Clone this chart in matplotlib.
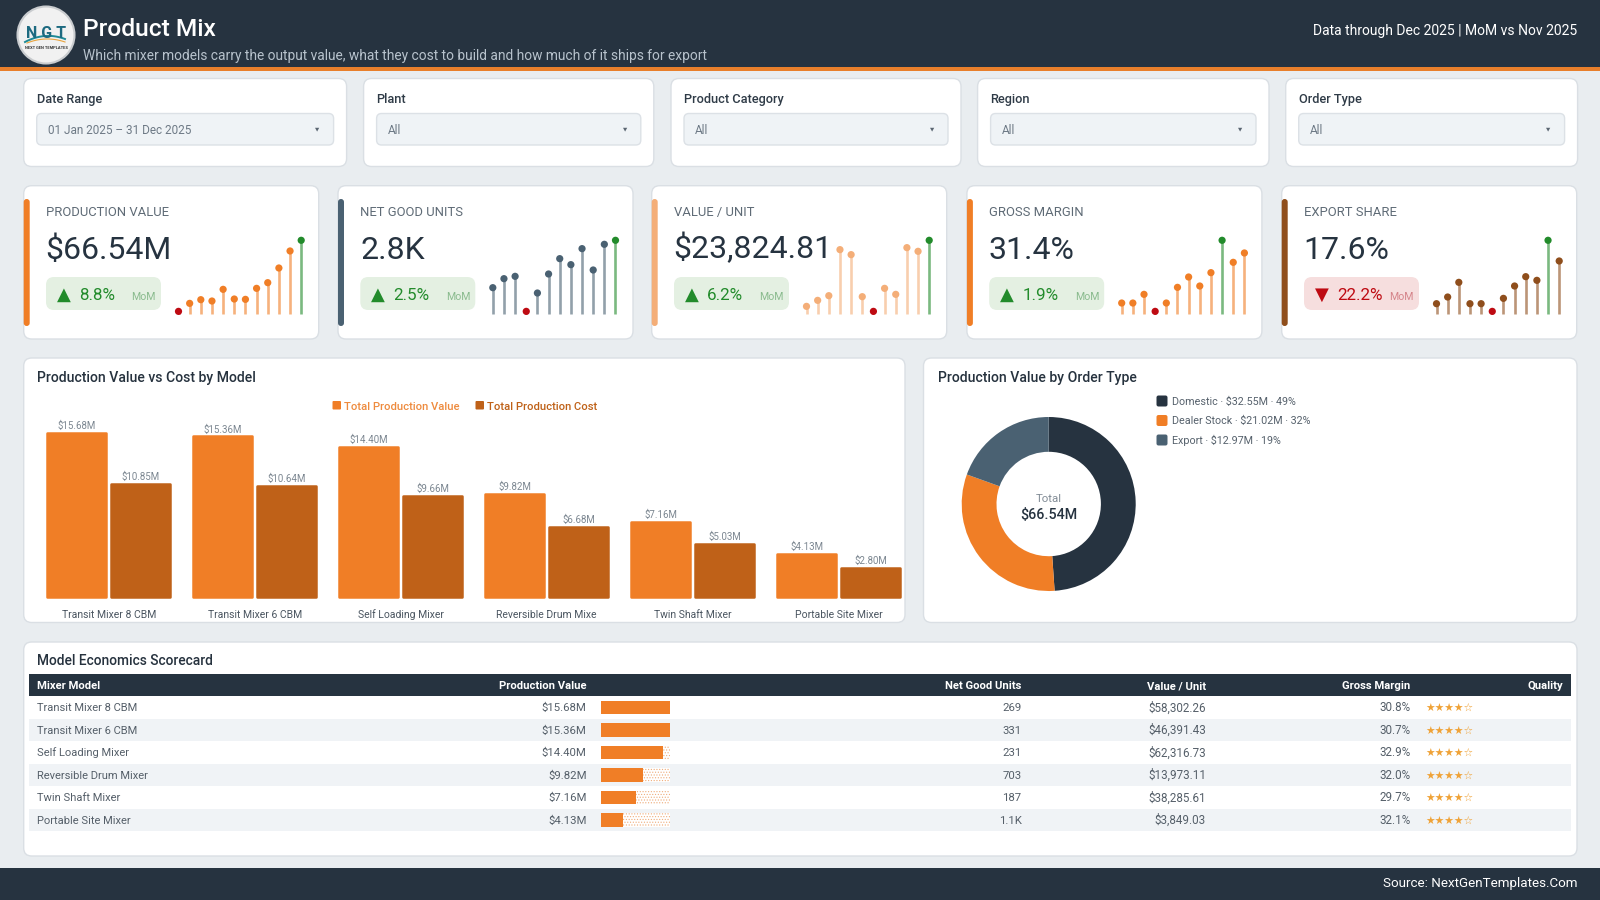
# Product Mix dashboard
import numpy as np
import matplotlib
matplotlib.use('Agg')
import matplotlib.pyplot as plt
from matplotlib.patches import FancyBboxPatch, Circle

W, H = 1600, 900
FONT = 'Roboto'
plt.rcParams['font.family'] = [FONT, 'DejaVu Sans']

# colours
DARK = '#263340'
ORANGE = '#F07E26'
RUST = '#BF6118'
SLATE = '#4A6172'
PEACH = '#F4AE78'
BROWN = '#8F4E1C'
PAGE = '#E9EDF0'
BORDER = '#DADFE4'
GREEN = '#228B2B'
RED = '#BE0A12'

# filters
filter_labels = ['Date Range', 'Plant', 'Product Category', 'Region', 'Order Type']
filter_values = ['01 Jan 2025 – 31 Dec 2025', 'All', 'All', 'All', 'All']

# kpi cards
kpi_labels = ['PRODUCTION VALUE', 'NET GOOD UNITS', 'VALUE / UNIT', 'GROSS MARGIN', 'EXPORT SHARE']
kpi_values = ['$66.54M', '2.8K', '$23,824.81', '31.4%', '17.6%']
kpi_deltas = ['8.8%', '2.5%', '6.2%', '1.9%', '22.2%']
kpi_up = [True, True, True, True, False]
kpi_colors = [ORANGE, SLATE, PEACH, ORANGE, BROWN]

# monthly trend, read as height above the baseline
spark_production = [7, 31, 42, 38, 73, 44, 43, 76, 93, 137, 188, 220]
spark_units = [78, 105, 112, 7, 62, 119, 165, 147, 195, 131, 208, 220]
spark_value = [22, 40, 54, 192, 177, 51, 7, 76, 58, 198, 187, 220]
spark_margin = [32, 32, 58, 7, 32, 79, 110, 83, 123, 220, 154, 182]
spark_export = [30, 50, 94, 30, 30, 7, 46, 83, 111, 100, 220, 158]
sparks = [spark_production, spark_units, spark_value, spark_margin, spark_export]

# bar chart
bar_models = ['Transit Mixer 8 CBM', 'Transit Mixer 6 CBM', 'Self Loading Mixer',
              'Reversible Drum Mixe', 'Twin Shaft Mixer', 'Portable Site Mixer']
prod_value = [15.68, 15.36, 14.40, 9.82, 7.16, 4.13]
prod_cost = [10.85, 10.64, 9.66, 6.68, 5.03, 2.80]

# donut
order_types = ['Domestic', 'Dealer Stock', 'Export']
order_values = [32.55, 21.02, 12.97]
order_pct = [49, 32, 19]
order_colors = [DARK, ORANGE, SLATE]

# table
table_models = ['Transit Mixer 8 CBM', 'Transit Mixer 6 CBM', 'Self Loading Mixer',
                'Reversible Drum Mixer', 'Twin Shaft Mixer', 'Portable Site Mixer']
table_units = ['269', '331', '231', '703', '187', '1.1K']
table_vpu = ['$58,302.26', '$46,391.43', '$62,316.73', '$13,973.11', '$38,285.61', '$3,849.03']
table_margin = ['30.8%', '30.7%', '32.9%', '32.0%', '29.7%', '32.1%']
table_fill = [1.0, 1.0, 0.90, 0.607, 0.505, 0.316]
table_stars = ['★★★★☆'] * 6

fig = plt.figure(figsize=(16, 9), dpi=100, facecolor=PAGE)
bg = fig.add_axes([0, 0, 1, 1])
bg.set_xlim(0, W)
bg.set_ylim(H, 0)
bg.axis('off')


def px_axes(x0, y0, x1, y1):
    ax = fig.add_axes([x0 / W, 1 - y1 / H, (x1 - x0) / W, (y1 - y0) / H])
    ax.patch.set_alpha(0)
    ax.axis('off')
    return ax


def box(x0, y0, x1, y1, fc='white', ec=BORDER, r=8, lw=1.0, z=1):
    p = FancyBboxPatch((x0, y0), x1 - x0, y1 - y0, boxstyle=f'round,pad=0,rounding_size={r}',
                       fc=fc, ec=ec, lw=lw, zorder=z)
    bg.add_patch(p)


def txt(x, y, s, px=12, color='#333333', ha='left', weight='normal', family=None, z=5):
    # y is the middle of the capitals
    bg.text(x, y + 0.36 * px, s, fontsize=px * 0.72, color=color, ha=ha, va='baseline',
            fontweight=weight, family=family or [FONT, 'DejaVu Sans'], zorder=z)


# header
bg.fill_between([0, W], 0, 67, color=DARK, lw=0)
bg.fill_between([0, W], 66.5, 70.5, color='#E87F2B', lw=0)
bg.fill_between([0, W], 867.5, 900, color=DARK, lw=0)
bg.add_patch(Circle((46, 35), 28.5, fc='#F1F1F1', ec='#C9CCCF', lw=1.5, zorder=3))
txt(46.5, 32, 'N G T', px=16, color='#1D6A80', ha='center', weight='bold')
t = np.linspace(0, 1, 40)
bg.plot(25 + 40 * t, 42 - 9 * t * (1 - t) * 2 - 3 * t, color='#1D8A96', lw=1.4, zorder=4)
bg.plot(27 + 38 * t, 43 - 7 * t * (1 - t) * 2 - 1 * t, color='#E8A33D', lw=0.8, zorder=4)
txt(46.5, 47.6, 'NEXT GEN TEMPLATES', px=4, color='#333333', ha='center', weight='bold')
txt(83, 27.5, 'Product Mix', px=24.5, color='white', weight='medium')
txt(83, 55, 'Which mixer models carry the output value, what they cost to build and how much of it ships for export',
    px=13.8, color='#B7C2CC')
txt(1577.6, 30, 'Data through Dec 2025 | MoM vs Nov 2025', px=13.85, color='white', ha='right')
txt(1577.6, 882, 'Source: NextGenTemplates.Com', px=13.4, color='white', ha='right')

# filter row
filter_x0 = [23.7, 363.6, 671, 977.6, 1285.7]
filter_x1 = [346.6, 653.8, 961, 1269, 1577.6]
for i in range(5):
    x0, x1 = filter_x0[i], filter_x1[i]
    box(x0, 78.5, x1, 166.5)
    txt(x0 + 13, 98, filter_labels[i], px=12.8, color='#2F3B47', weight='medium')
    box(x0 + 13, 113.5, x1 - 13, 145, fc='#EFF3F6', ec='#DCE1E6', r=5)
    txt(x0 + 24, 130, filter_values[i], px=11.8, color='#6E7A86')
    txt(x1 - 29, 128.5, '▼', px=5.5, color='#5B6672', ha='center', family='DejaVu Sans')

# kpi cards
card_x = [23.7, 338, 651.7, 966.9, 1281.7]
for i in range(5):
    x = card_x[i]
    col = kpi_colors[i]
    box(x, 185.7, x + 295, 339)
    box(x, 199, x + 6, 326, fc=col, ec=col, r=3, lw=0, z=2)
    txt(x + 22.3, 211, kpi_labels[i], px=13, color='#5F6B76')
    txt(x + 22, 247, kpi_values[i], px=32, color=DARK)
    up = kpi_up[i]
    box(x + 22.3, 277, x + 137.3, 310, fc='#E4F0E2' if up else '#F6DEDE', ec='none', r=8, lw=0, z=2)
    c = GREEN if up else RED
    txt(x + 40, 293, '▲' if up else '▼', px=18, color=c, ha='center', family='DejaVu Sans')
    txt(x + 55.3, 294, kpi_deltas[i], px=17, color=c)
    txt(x + 132.3, 296, 'MoM', px=10.5, color='#8ABB8E' if up else '#D5848A', ha='right')

    # lollipop sparkline
    ax = px_axes(x + 154.8, 240.3, x + 277.5, 313.7)
    vals = np.array(sparks[i])
    xs = np.arange(len(vals))
    imax, imin = vals.argmax(), vals.argmin()
    stem = [GREEN if k == imax else (RED if k == imin else col) for k in xs]
    ax.vlines(xs, 0, vals, colors=stem, linewidth=1.9, alpha=0.6, clip_on=False)
    ax.scatter(xs, vals, s=27, c=stem, zorder=3, clip_on=False, linewidths=0)
    ax.set_xlim(0, len(vals) - 1)
    ax.set_ylim(0, 220)

# bar chart panel
box(23.7, 358, 905, 622.5)
txt(36.7, 376.5, 'Production Value vs Cost by Model', px=14, color='#26323E', weight='medium')
box(332.5, 401, 341, 409.5, fc=ORANGE, ec='none', r=1, lw=0, z=2)
txt(344, 405.5, 'Total Production Value', px=11.2, color='#EE8B3E', weight='medium')
box(475.5, 401, 484, 409.5, fc=RUST, ec='none', r=1, lw=0, z=2)
txt(487, 405.5, 'Total Production Cost', px=11.2, color=RUST, weight='medium')

step = 146.0
ax = px_axes(108.7 - 0.5 * step, 420, 108.7 + 5.45 * step, 597)
bx = np.arange(6)
bw = 58.5 / step
off = 32 / step
ax.bar(bx - off, prod_value, bw, color=ORANGE, edgecolor=ORANGE, linewidth=1.8, joinstyle='round', clip_on=False)
ax.bar(bx + off, prod_cost, bw, color=RUST, edgecolor=RUST, linewidth=1.8, joinstyle='round', clip_on=False)
ax.set_xlim(-0.5, 5.45)
ax.set_ylim(0, 177 / 10.45)
for k in bx:
    ax.annotate(f'${prod_value[k]:.2f}M', (k - off, prod_value[k]), xytext=(0, 2), textcoords='offset pixels',
                ha='center', va='bottom', fontsize=7.0, color='#7C8791', annotation_clip=False)
    ax.annotate(f'${prod_cost[k]:.2f}M', (k + off, prod_cost[k]), xytext=(0, 2), textcoords='offset pixels',
                ha='center', va='bottom', fontsize=7.0, color='#7C8791', annotation_clip=False)
    ax.annotate(bar_models[k], (k, 0), xytext=(0, -21), textcoords='offset pixels',
                ha='center', va='baseline', fontsize=7.5, color='#4A5560', annotation_clip=False)

# donut panel
box(923.5, 358, 1577, 622.5)
txt(937.5, 376.5, 'Production Value by Order Type', px=14, color='#26323E', weight='medium')
ax = px_axes(1048.7 - 87, 504 - 87, 1048.7 + 87, 504 + 87)
ax.pie(order_values, colors=order_colors, startangle=90, counterclock=False, radius=1,
       wedgeprops={'width': 0.4, 'linewidth': 0})
ax.set_xlim(-1, 1)
ax.set_ylim(-1, 1)
txt(1048.7, 498, 'Total', px=11.5, color='#838D97', ha='center')
txt(1048.7, 514, '$66.54M', px=14.2, color=DARK, ha='center', weight='medium')
leg_y = [401, 420.5, 440]
for i in range(3):
    box(1156.5, leg_y[i] - 5.5, 1167.5, leg_y[i] + 5.5, fc=order_colors[i], ec='none', r=2, lw=0, z=2)
    txt(1172.5, leg_y[i], f'{order_types[i]} · ${order_values[i]:.2f}M · {order_pct[i]}%', px=10.8, color='#56616C')

# scorecard
box(23.7, 642, 1577, 856)
txt(36.7, 660, 'Model Economics Scorecard', px=13.8, color='#26323E', weight='medium')
bg.fill_between([29, 1571], 674, 696, color=DARK, lw=0, zorder=2)
col_heads = ['Production Value', 'Net Good Units', 'Value / Unit', 'Gross Margin', 'Quality']
col_right = [586.7, 1021.5, 1206, 1410.7, 1563]
txt(36.7, 685, 'Mixer Model', px=11.3, color='white', weight='bold')
for h, xr in zip(col_heads, col_right):
    txt(xr, 685, h, px=11.3, color='white', ha='right', weight='bold')
row_h = 22.5
for r in range(6):
    y0 = 696 + r * row_h
    if r % 2 == 1:
        bg.fill_between([29, 1571], y0, y0 + row_h, color='#F0F3F6', lw=0, zorder=2)
    yc = y0 + row_h / 2
    txt(36.7, yc, table_models[r], px=11.1, color='#555F69')
    txt(586.7, yc, f'${prod_value[r]:.2f}M', px=11.4, color='#555F69', ha='right')
    txt(1021.5, yc, table_units[r], px=11.4, color='#555F69', ha='right')
    txt(1206, yc, table_vpu[r], px=11.6, color='#555F69', ha='right')
    txt(1410.7, yc, table_margin[r], px=11.6, color='#555F69', ha='right')
    txt(1425.5, yc, table_stars[r], px=10.7, color='#EFA237', family='DejaVu Sans')

plt.rcParams['hatch.linewidth'] = 0.5
ax = px_axes(601, 696, 669.7, 831)
rows = np.arange(6)
ax.barh(rows, [1] * 6, 0.6, color='white', edgecolor='#EFAE7E', hatch='......', linewidth=0)
ax.barh(rows, table_fill, 0.6, color=ORANGE, linewidth=0)
ax.set_xlim(0, 1)
ax.set_ylim(5.5, -0.5)

fig.savefig('out.png', dpi=100, facecolor=PAGE)
